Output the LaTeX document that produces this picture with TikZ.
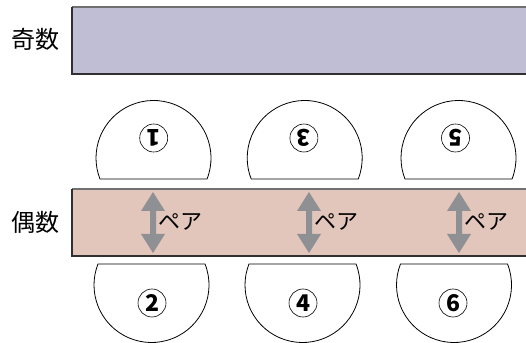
\documentclass[tikz,border=0pt]{standalone}
\usepackage{fontspec}
\setmainfont{Noto Sans CJK JP}
\definecolor{oddfill}{HTML}{C0BED4}
\definecolor{evenfill}{HTML}{E3C6BB}
\definecolor{arrowgray}{HTML}{8E9094}
\definecolor{edgelight}{HTML}{707070}
\definecolor{edgedark}{HTML}{303030}
\usetikzlibrary{calc}
\tikzset{
  rowlabel/.style={font=\fontsize{24}{24}\selectfont, inner sep=0pt},
  pairlabel/.style={font=\fontsize{22}{22}\selectfont, inner sep=0pt, anchor=west},
  numcircle/.style={circle, draw=black, line width=0.6pt, minimum size=28pt, inner sep=0pt,
    font=\fontsize{23}{23}\selectfont\bfseries},
  seat/.style={draw=black, line width=0.8pt, fill=white},
  pairarrow/.style={fill=arrowgray, draw=none}
}
\newcommand{\upperseat}[2]{% center x, name
  \coordinate (#2) at (#1,184);
  \draw[seat] (#2) ++(-21.4:57.5) arc (-21.4:201.4:57.5) -- cycle;
}
\newcommand{\lowerseat}[2]{%
  \coordinate (#2) at (#1,57);
  \draw[seat] (#2) ++(21.4:57.5) arc (21.4:-201.4:57.5) -- cycle;
}
\newcommand{\pairarrowat}[2]{% x, name
  \coordinate (#2top) at (#1,150);
  \coordinate (#2bot) at (#1,89);
  \fill[pairarrow] (#2top) -- ++(-12,-19) -- ++(9,0) -- ($(#2bot)+(-3,19)$) -- ++(-9,0)
     -- (#2bot) -- ++(12,19) -- ++(-9,0) -- ($(#2top)+(3,-19)$) -- ++(9,0) -- cycle;
  \node[pairlabel] (#2lbl) at ($(#2top)!0.5!(#2bot)+(5,1)$) {ペア};
}
\begin{document}
\begin{tikzpicture}[x=1pt,y=1pt]
\useasboundingbox (0,0) rectangle (526,342);
% odd row
\fill[oddfill] (72,268) rectangle (540,335);
\draw[edgelight, line width=1.2pt] (72,335) -- (540,335);
\draw[edgedark, line width=1.2pt] (72,335) -- (72,268) -- (540,268);
\node[rowlabel] (oddlbl) at (35,303) {奇数};
% even row
\fill[evenfill] (72,86) rectangle (540,153);
\draw[edgelight, line width=1.2pt] (72,153) -- (540,153);
\draw[edgedark, line width=1.2pt] (72,153) -- (72,86) -- (540,86);
\node[rowlabel] (evenlbl) at (35,120) {偶数};
% upper seats
\upperseat{153.5}{s1}
\upperseat{304.7}{s3}
\upperseat{458.5}{s5}
\node[numcircle, rotate=180] (n1) at (153.7,204) {1};
\node[numcircle, rotate=180] (n3) at (303.9,204) {3};
\node[numcircle, rotate=180] (n5) at (455.5,204) {5};
% lower seats
\lowerseat{151.5}{s2}
\lowerseat{302.5}{s4}
\lowerseat{454}{s6}
\node[numcircle] (n2) at (152,39) {2};
\node[numcircle] (n4) at (303,39) {4};
\node[numcircle] (n6) at (453,39) {6};
% pair arrows
\pairarrowat{153}{a1}
\pairarrowat{309}{a2}
\pairarrowat{459}{a3}
\end{tikzpicture}
\end{document}
